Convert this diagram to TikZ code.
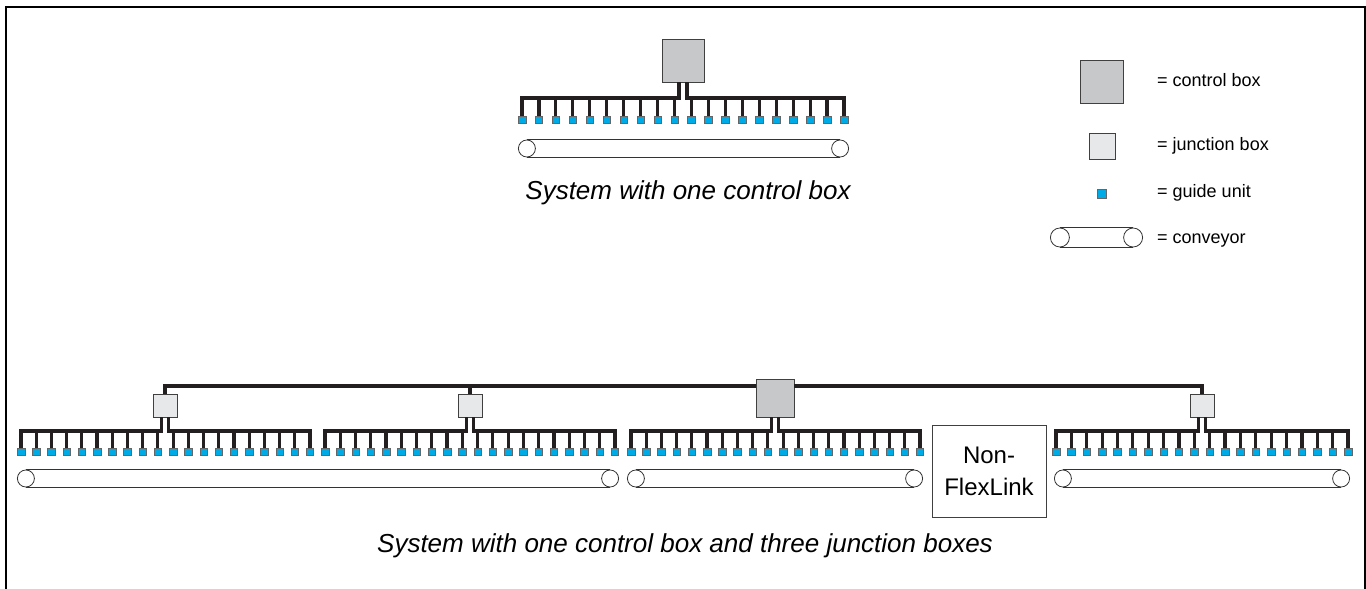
\documentclass[tikz,border=0pt]{standalone}
\usepackage{fontspec}
\setmainfont{Liberation Sans}
\usetikzlibrary{positioning, calc}

\definecolor{ctrlgray}{RGB}{199,200,202}
\definecolor{jboxgray}{RGB}{231,232,233}
\definecolor{guideblue}{RGB}{0,170,228}
\definecolor{wireblack}{RGB}{35,31,32}

\tikzset{
    ctrlbox/.style={draw=black!75, fill=ctrlgray, inner sep=0pt, line width=0.8pt},
    jbox/.style={draw=black!75, fill=jboxgray, inner sep=0pt, line width=0.8pt},
    guide/.style={draw=black!60, fill=guideblue, minimum size=7.5pt, inner sep=0pt, line width=0.5pt},
    wire/.style={draw=wireblack, line width=3.2pt},
    mainbus/.style={draw=wireblack, line width=4.4pt},
    roller/.style={circle, draw=black!80, fill=white, minimum size=#1, inner sep=0pt, line width=0.8pt},
    roller/.default=17pt,
    belt/.style={draw=black!80, line width=0.8pt},
    legendtext/.style={font=\fontsize{18}{22}\selectfont, anchor=base west, inner sep=0pt},
    caption/.style={font=\itshape\fontsize{26}{30}\selectfont, anchor=base, inner sep=0pt}
}

% a row of 20 guide units hanging from a box
\newcommand{\guiderow}[7]{% prefix, first x, step, bus y, unit y, box, offset
    \foreach \i in {1,...,20}{
        \node[guide] (#1-\i) at ({#2+(\i-1)*#3},#5) {};
        \draw[wire] (#1-\i.north) -- (#1-\i.north |- 0,#4);
    }
    \draw[wire] ([xshift=-#7]#6.south) |- (#1-1.north |- 0,#4) -- (#1-1.north);
    \draw[wire] ([xshift=#7]#6.south) |- (#1-20.north |- 0,#4) -- (#1-20.north);
}

% conveyor: two rollers and the belt
\newcommand{\conveyor}[5]{% name, left x, right x, y, size
    \node[roller=#5, anchor=west] (#1l) at (#2,#4) {};
    \node[roller=#5, anchor=east] (#1r) at (#3,#4) {};
    \draw[belt] (#1l.north) -- (#1r.north) (#1l.south) -- (#1r.south);
}

\begin{document}
\begin{tikzpicture}[x=1pt, y=-1pt]
    \useasboundingbox (0,0) rectangle (1366,589);
    \draw[line width=2pt] (6,589) -- (6,7) -- (1365,7) -- (1365,589);

    % system with one control box
    \node[ctrlbox, minimum width=42pt, minimum height=43pt] (cb1) at (683,60.5) {};
    \guiderow{a}{522}{16.947}{98}{119.5}{cb1}{4pt}
    \conveyor{ca}{518}{849}{148.5}{17pt}
    \node[caption] (cap1) at (688,199) {System with one control box};

    % legend
    \node[ctrlbox, minimum size=43pt] (lcb) at (1101.5,81.5) {};
    \node[jbox, minimum size=26pt] (ljb) at (1102,146) {};
    \node[guide, minimum size=9pt] (lgu) at (1101.5,193.5) {};
    \conveyor{lc}{1050}{1143}{237.5}{19pt}
    \node[legendtext] (lt1) at (1157,86) {= control box};
    \node[legendtext] (lt2) at (1157,150) {= junction box};
    \node[legendtext] (lt3) at (1157,197) {= guide unit};
    \node[legendtext] (lt4) at (1157,243) {= conveyor};

    % system with one control box and three junction boxes
    \node[jbox, minimum width=24pt, minimum height=23pt] (jb1) at (165,405.5) {};
    \node[jbox, minimum width=24pt, minimum height=23pt] (jb2) at (470,405.5) {};
    \node[ctrlbox, minimum size=38pt] (cb2) at (775,398) {};
    \node[jbox, minimum width=24pt, minimum height=23pt] (jb4) at (1202,405.5) {};
    \draw[mainbus] (jb1.north) |- (cb2.west |- 0,386);
    \draw[mainbus] (cb2.east |- 0,386) -| (jb4.north);
    \draw[mainbus] (jb2.north) -- (jb2.north |- 0,386);

    \guiderow{b}{21}{15.21}{431}{451.5}{jb1}{3.5pt}
    \guiderow{c}{325}{15.26}{431}{451.5}{jb2}{3.5pt}
    \guiderow{d}{631}{15.21}{431}{451.5}{cb2}{3.5pt}
    \guiderow{e}{1056}{15.37}{431}{451.5}{jb4}{3.5pt}

    \conveyor{cb}{17}{619}{478.5}{17pt}
    \conveyor{cc}{627}{923}{478.5}{17pt}
    \conveyor{cd}{1054}{1350}{478.5}{17pt}

    \node[draw=black!75, line width=0.8pt, minimum width=114pt, minimum height=92pt,
          align=center, font=\fontsize{24}{32}\selectfont] (nfl) at (989,471) {Non-\\FlexLink};

    \node[caption] (cap2) at (685,552) {System with one control box and three junction boxes};
\end{tikzpicture}
\end{document}
